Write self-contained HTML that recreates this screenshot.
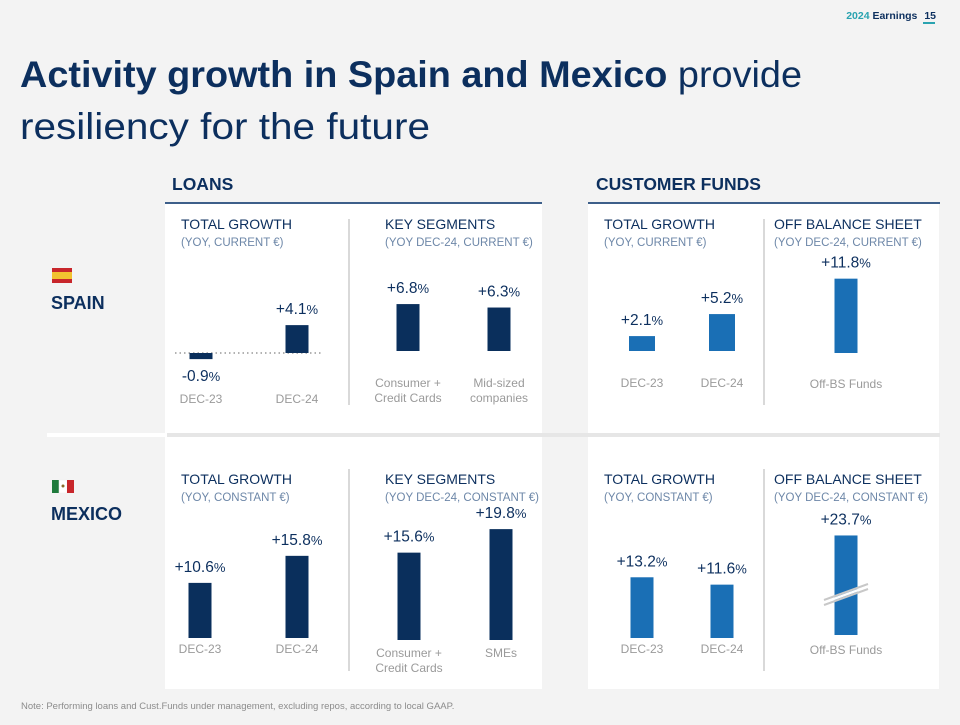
<!DOCTYPE html>
<html><head><meta charset="utf-8"><style>
html,body{margin:0;padding:0;background:#f3f3f3;}
body{width:960px;height:720px;overflow:hidden;font-family:"Liberation Sans",sans-serif;}
svg text{font-family:"Liberation Sans",sans-serif;}
</style></head><body>
<svg id="s" width="960" height="720" xmlns="http://www.w3.org/2000/svg">
<rect x="0" y="0" width="960" height="720" fill="#f3f3f3"/>
<g>
<text x="936" y="19" text-anchor="end" font-size="10.5" font-weight="bold" fill="#0c2f5e"><tspan fill="#2aa3b0">2024</tspan> Earnings <tspan dx="4">15</tspan></text>
<rect x="937" y="22" width="12" height="2" fill="#2aa3b0" transform="translate(-14,0)"/>
</g>
<text x="20" y="87" font-size="37" fill="#0c2f5e" textLength="782" lengthAdjust="spacingAndGlyphs"><tspan font-weight="bold">Activity growth in Spain and Mexico</tspan> provide</text>
<text x="20" y="139" font-size="37" fill="#0c2f5e" textLength="410" lengthAdjust="spacingAndGlyphs">resiliency for the future</text>

<rect x="165" y="204" width="377" height="485" fill="#fff"/>
<rect x="588" y="204" width="351" height="485" fill="#fff"/>
<rect x="167" y="433" width="773" height="4" fill="#e6e6e6"/>
<rect x="47" y="433" width="118" height="4" fill="#fff"/>

<text x="172" y="190" font-size="17.5" font-weight="bold" fill="#0c2f5e">LOANS</text>
<rect x="165" y="202" width="377" height="2" fill="#3d5f8a"/>
<text x="596" y="190" font-size="17.5" font-weight="bold" fill="#0c2f5e">CUSTOMER FUNDS</text>
<rect x="588" y="202" width="352" height="2" fill="#3d5f8a"/>

<g><rect x="52" y="268" width="20" height="15" fill="#c8262b"/><rect x="52" y="272" width="20" height="7" fill="#f2c230"/></g>
<text x="51" y="309" font-size="18" font-weight="bold" fill="#0c2f5e">SPAIN</text>
<g><rect x="52" y="480" width="7" height="13" fill="#1f7a3c"/><rect x="59" y="480" width="8" height="13" fill="#fff" stroke="#eee" stroke-width="0.5"/><rect x="67" y="480" width="7" height="13" fill="#c8262b"/><circle cx="63" cy="486" r="1.5" fill="#8a6a2a"/></g>
<text x="51" y="520" font-size="18" font-weight="bold" fill="#0c2f5e">MEXICO</text>

<g fill="#d9d9d9">
<rect x="348" y="219" width="2" height="186"/><rect x="763" y="219" width="2" height="186"/>
<rect x="348" y="469" width="2" height="202"/><rect x="763" y="469" width="2" height="202"/>
</g>

<g id="heads"></g>
<g id="charts"></g>
<text x="21" y="709" font-size="9.5" fill="#8c8c8c">Note: Performing loans and Cust.Funds under management, excluding repos, according to local GAAP.</text>
</svg>
<script>
// ---- data ----
const spainLoansCats = ["DEC-23", "DEC-24"];
const spainLoansVals = [-0.9, 4.1];
const spainSegCats = ["Consumer +|Credit Cards", "Mid-sized|companies"];
const spainSegVals = [6.8, 6.3];
const spainFundsCats = ["DEC-23", "DEC-24"];
const spainFundsVals = [2.1, 5.2];
const spainOffCats = ["Off-BS Funds"];
const spainOffVals = [11.8];
const mexLoansCats = ["DEC-23", "DEC-24"];
const mexLoansVals = [10.6, 15.8];
const mexSegCats = ["Consumer +|Credit Cards", "SMEs"];
const mexSegVals = [15.6, 19.8];
const mexFundsCats = ["DEC-23", "DEC-24"];
const mexFundsVals = [13.2, 11.6];
const mexOffCats = ["Off-BS Funds"];
const mexOffVals = [23.7];

const NS = "http://www.w3.org/2000/svg";
const heads = document.getElementById('heads');
const charts = document.getElementById('charts');
function mk(tag, attrs, parent){const e=document.createElementNS(NS,tag);for(const k in attrs)e.setAttribute(k,attrs[k]);parent.appendChild(e);return e;}

const headings = [
 [181,"TOTAL GROWTH","(YOY, CURRENT €)",229],
 [385,"KEY SEGMENTS","(YOY DEC-24, CURRENT €)",229],
 [604,"TOTAL GROWTH","(YOY, CURRENT €)",229],
 [774,"OFF BALANCE SHEET","(YOY DEC-24, CURRENT €)",229],
 [181,"TOTAL GROWTH","(YOY, CONSTANT €)",484],
 [385,"KEY SEGMENTS","(YOY DEC-24, CONSTANT €)",484],
 [604,"TOTAL GROWTH","(YOY, CONSTANT €)",484],
 [774,"OFF BALANCE SHEET","(YOY DEC-24, CONSTANT €)",484]
];
headings.forEach(h=>{
 const t=mk('text',{x:h[0],y:h[3],'font-size':14,fill:'#0c2f5e'},heads);t.textContent=h[1];
 
 
 const s=mk('text',{x:h[0],y:h[3]+17,'font-size':11.5,fill:'#6d87a8'},heads);s.textContent=h[2];
 
 
});

function fmt(v){return (v>0?'+':'')+v.toFixed(1);}
function chart(name,cats,vals,o){
 const g=mk('g',{},charts);
 
 
 const yScale=v=>o.base - v*o.scale;
 if(o.dotted){const l=mk('line',{x1:o.dotted[0],x2:o.dotted[1],y1:o.base,y2:o.base,stroke:'#666','stroke-width':1,'stroke-dasharray':'1.5,3'},g);}
 vals.forEach((v,i)=>{
  const cx=o.x0+i*o.step;
  const y1=yScale(Math.max(v,0)), y2=yScale(Math.min(v,0));
  const r=mk('rect',{x:cx-o.w/2,y:y1,width:o.w,height:Math.max(y2-y1,1),fill:o.color},g);
  
  
  const ly = v>=0 ? y1-11 : y2+22;
  const t=mk('text',{x:cx,y:ly,'text-anchor':'middle','font-size':15.5,fill:'#0c2f5e'},g);
  t.textContent=fmt(v);
  const p=mk('tspan',{'font-size':13},t);p.textContent='%';
  
  
  cats[i].split('|').forEach((line,j)=>{
   const c=mk('text',{x:cx,y:o.catY+j*15,'text-anchor':'middle','font-size':12,fill:'#9a9a9a'},g);
   c.textContent=line;
   
   
  });
 });
 if(o.brk){
  const cx=o.x0;
  mk('line',{x1:cx-22,y1:o.brk+8,x2:cx+22,y2:o.brk-8,stroke:'#c8c8c8','stroke-width':2},g);
  mk('line',{x1:cx-22,y1:o.brk+13,x2:cx+22,y2:o.brk-3,stroke:'#c8c8c8','stroke-width':2},g);
  mk('line',{x1:cx-22,y1:o.brk+10.5,x2:cx+22,y2:o.brk-5.5,stroke:'#fff','stroke-width':2.5},g);
 }
}
const NAVY='#0a2f5c', BLUE='#1a6fb5';
chart('spain-loans-total-chart',spainLoansCats,spainLoansVals,{x0:201,step:96,w:23,base:353,scale:6.8,color:NAVY,catY:403,dotted:[175,323]});
chart('spain-loans-segments-chart',spainSegCats,spainSegVals,{x0:408,step:91,w:23,base:351,scale:6.9,color:NAVY,catY:387});
chart('spain-funds-total-chart',spainFundsCats,spainFundsVals,{x0:642,step:80,w:26,base:351,scale:7.1,color:BLUE,catY:387});
chart('spain-offbs-chart',spainOffCats,spainOffVals,{x0:846,step:0,w:23,base:353,scale:6.3,color:BLUE,catY:388});
chart('mexico-loans-total-chart',mexLoansCats,mexLoansVals,{x0:200,step:97,w:23,base:638,scale:5.2,color:NAVY,catY:653});
chart('mexico-loans-segments-chart',mexSegCats,mexSegVals,{x0:409,step:92,w:23,base:640,scale:5.6,color:NAVY,catY:657});
chart('mexico-funds-total-chart',mexFundsCats,mexFundsVals,{x0:642,step:80,w:23,base:638,scale:4.6,color:BLUE,catY:653});
chart('mexico-offbs-chart',mexOffCats,mexOffVals,{x0:846,step:0,w:23,base:635,scale:4.2,color:BLUE,catY:654,brk:592});
</script>
</body></html>
